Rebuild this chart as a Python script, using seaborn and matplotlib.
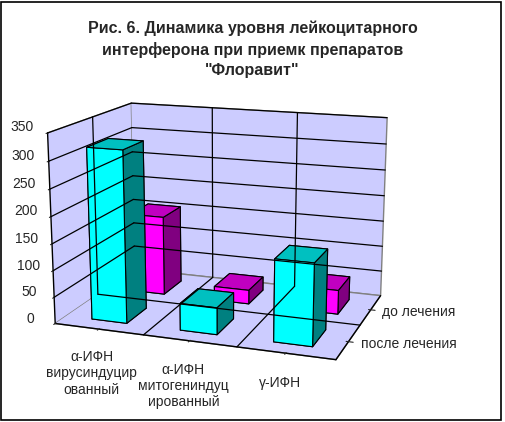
import numpy as np
import matplotlib
matplotlib.use("Agg")
import matplotlib.pyplot as plt
from matplotlib.patches import Rectangle
import seaborn as sns

# ---------------- data ----------------
categories = ["α-ИФН\nвирусиндуцир\nованный", "α-ИФН\nмитогениндуц\nированный", "γ-ИФН"]
series_names = ["после лечения", "до лечения"]
after_values = [320, 50, 150]     # front row (cyan)
before_values = [155, 27, 46]     # back row (magenta)
z_ticks = [0, 50, 100, 150, 200, 250, 300, 350]
title = 'Рис. 6. Динамика уровня лейкоцитарного\nинтерферона при приемк препаратов\n"Флоравит"'

# ---------------- style ----------------
sns.set_style("white")
plt.rcParams["font.family"] = ["Liberation Sans", "DejaVu Sans"]

pane_color = "#CCCCFF"
face_cols = {
    0: {"front": "#00FFFF", "top": "#00C0C0", "side": "#008080"},
    1: {"front": "#FF00FF", "top": "#C000C0", "side": "#800080"},
}

fig = plt.figure(figsize=(5.05, 4.22), dpi=100)
fig.patch.set_facecolor("white")
ax = fig.add_axes([0.0560, 0.0179, 0.7537, 0.9019], projection="3d")
ax.set_proj_type("persp", focal_length=0.5513)
ax.view_init(elev=14.703, azim=-70.382)
ax.set_box_aspect((1.0, 0.6780, 0.6702))

n_cat = len(categories)
n_ser = len(series_names)
values = [after_values, before_values]

bar_w = 0.4
bar_d = 0.5
xs, ys, heights, colors = [], [], [], []
for j in range(n_ser):
    for i in range(n_cat):
        xs.append(i + 0.5 - bar_w / 2)
        ys.append(j + 0.5 - bar_d / 2)
        heights.append(values[j][i])
        c = face_cols[j]
        # faces: -z, +z, -y, +y, -x, +x
        colors += [c["front"], c["top"], c["front"], c["front"], c["side"], c["side"]]

ax.bar3d(xs, ys, np.zeros(len(xs)), bar_w, bar_d, heights, color=colors,
         shade=False, edgecolor="black", linewidth=0.8)

ax.set_xlim(0, n_cat)
ax.set_ylim(0, n_ser)
ax.set_zlim(0, z_ticks[-1])
ax.grid(False)

# wall / floor grid lines (Excel-style, at category / series boundaries)
gkw = dict(color="black", linewidth=0.9)
for z in z_ticks[1:]:
    ax.plot([0, 0], [0, n_ser], [z, z], **gkw)
    ax.plot([0, n_cat], [n_ser, n_ser], [z, z], **gkw)
for i in range(1, n_cat):
    ax.plot([i, i], [n_ser, n_ser], [0, z_ticks[-1]], **gkw)
    ax.plot([i, i], [0, n_ser], [0, 0], **gkw)
for j in range(1, n_ser):
    ax.plot([0, 0], [j, j], [0, z_ticks[-1]], **gkw)
    ax.plot([0, n_cat], [j, j], [0, 0], **gkw)

for axis in (ax.xaxis, ax.yaxis, ax.zaxis):
    axis.set_pane_color(pane_color)
    axis.pane.set_edgecolor("#808080")
    axis.line.set_color("black")
    axis.line.set_linewidth(1.0)
ax.zaxis.set_ticks_position("lower")

ax.set_xticks([i + 0.5 for i in range(n_cat)])
ax.set_xticklabels(categories, fontsize=10)
plt.setp(ax.get_xticklabels(), va="top")
ax.set_yticks([j + 0.5 for j in range(n_ser)])
ax.set_yticklabels(series_names, fontsize=10)
plt.setp(ax.get_yticklabels(), ha="left", va="bottom")
ax.set_zticks(z_ticks)
ax.set_zticklabels([str(z) for z in z_ticks], fontsize=10)
plt.setp(ax.get_zticklabels(), va="bottom")
ax.tick_params(axis="x", pad=4)
ax.tick_params(axis="y", pad=-2)
ax.tick_params(axis="z", pad=2)

fig.text(0.5, 0.952, title, ha="center", va="top", fontsize=11.5, fontweight="bold",
         linespacing=1.45)
fig.patches.append(Rectangle((0.002, 0.005), 0.99, 0.99, transform=fig.transFigure,
                             fill=False, edgecolor="black", linewidth=1.2))

fig.savefig("out.png", dpi=100)
